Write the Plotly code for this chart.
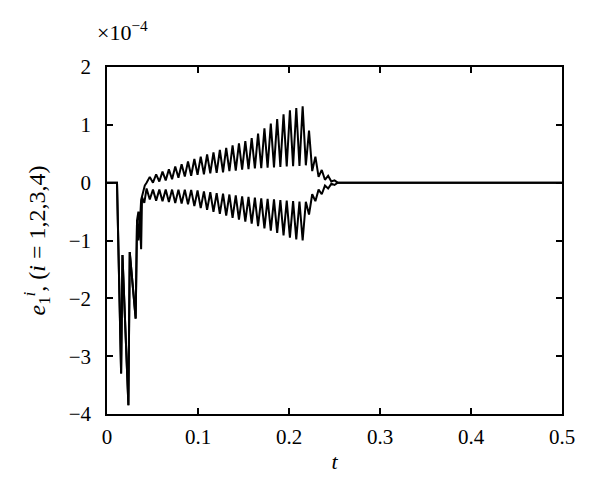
import plotly.graph_objects as go

# values in units of 1e-4
t_start = [0.0, 0.011, 0.0155, 0.017, 0.0235, 0.025, 0.0315, 0.033]
e_start = [0.0, 0.0, -3.3, -1.25, -3.85, -1.2, -2.35, -0.65]

t_up_early = [0.0345, 0.036, 0.0375, 0.039, 0.0415]
e_up_early = [-0.5, -0.75, -0.3, -0.2, -0.05]

t_lo_early = [0.0345, 0.036, 0.0375, 0.0385, 0.041]
e_lo_early = [-1.0, -0.6, -1.15, -0.25, -0.35]

t_zig = [0.0435, 0.047, 0.0505, 0.054, 0.0575, 0.061, 0.0645, 0.068, 0.0715, 0.075,
         0.0785, 0.082, 0.0855, 0.089, 0.0925, 0.096, 0.0995, 0.103, 0.1065, 0.110,
         0.1135, 0.117, 0.1205, 0.124, 0.1275, 0.131, 0.1345, 0.138, 0.1415, 0.145,
         0.1485, 0.152, 0.1555, 0.159, 0.1625, 0.166, 0.1695, 0.173, 0.1765, 0.180,
         0.1835, 0.187, 0.1905, 0.194, 0.1975, 0.201, 0.2045, 0.208, 0.2115, 0.215,
         0.2185]

e_up_zig = [0.0, 0.10, 0.0, 0.145, 0.02, 0.19, 0.04, 0.23, 0.06, 0.28,
            0.085, 0.32, 0.105, 0.365, 0.12, 0.41, 0.135, 0.45, 0.145, 0.49,
            0.16, 0.525, 0.17, 0.565, 0.18, 0.60, 0.20, 0.645, 0.21, 0.68,
            0.225, 0.72, 0.235, 0.77, 0.245, 0.85, 0.25, 0.94, 0.26, 1.02,
            0.265, 1.10, 0.27, 1.18, 0.28, 1.25, 0.285, 1.29, 0.29, 1.32,
            0.30]

e_lo_zig = [-0.10, -0.29, -0.12, -0.31, -0.12, -0.32, -0.12, -0.335, -0.12, -0.35,
            -0.12, -0.36, -0.12, -0.375, -0.125, -0.405, -0.135, -0.44, -0.15, -0.47,
            -0.165, -0.505, -0.18, -0.54, -0.19, -0.57, -0.205, -0.61, -0.22, -0.64,
            -0.235, -0.675, -0.245, -0.71, -0.26, -0.75, -0.27, -0.79, -0.28, -0.83,
            -0.29, -0.87, -0.30, -0.91, -0.31, -0.95, -0.32, -0.98, -0.325, -1.0,
            -0.33]

t_tail = [0.222, 0.2255, 0.229, 0.2325, 0.236, 0.2395, 0.243, 0.2465, 0.25, 0.2535, 0.5]
e_up_tail = [0.9, 0.2, 0.45, 0.1, 0.22, 0.05, 0.12, 0.02, 0.04, 0.0, 0.0]
e_lo_tail = [-0.55, -0.2, -0.32, -0.12, -0.2, -0.05, -0.1, -0.02, -0.04, 0.0, 0.0]

x_ticks = [0, 0.1, 0.2, 0.3, 0.4, 0.5]
x_tick_labels = ["0", "0.1", "0.2", "0.3", "0.4", "0.5"]
y_ticks = [-4, -3, -2, -1, 0, 1, 2]
y_tick_labels = ["\u22124", "\u22123", "\u22122", "\u22121", "0", "1", "2"]

t_upper = t_start + t_up_early + t_zig + t_tail
e_upper = e_start + e_up_early + e_up_zig + e_up_tail
t_lower = t_start + t_lo_early + t_zig + t_tail
e_lower = e_start + e_lo_early + e_lo_zig + e_lo_tail

fig = go.Figure()
for tt, ee in [(t_lower, e_lower), (t_upper, e_upper)]:
    fig.add_trace(go.Scatter(x=tt, y=ee, mode="lines",
                             line=dict(color="black", width=2),
                             showlegend=False, hoverinfo="skip"))

font_family = "Liberation Serif, serif"
axis_common = dict(showline=True, linecolor="black", linewidth=1.5,
                   mirror="ticks", ticks="inside", ticklen=6, tickwidth=1.5,
                   tickcolor="black", showgrid=False, zeroline=False,
                   tickfont=dict(family=font_family, size=21, color="black"))

fig.update_xaxes(range=[0, 0.5], tickvals=x_ticks, ticktext=x_tick_labels,
                 title=dict(text="<i>t</i>", font=dict(family=font_family, size=22, color="black"),
                            standoff=6),
                 ticklabelstandoff=3, **axis_common)
fig.update_yaxes(range=[-4, 2], tickvals=y_ticks, ticktext=y_tick_labels,
                 title=dict(text="<i>e</i><sub>1</sub><sup><i>i</i></sup>, (<i>i</i> = 1,2,3,4)",
                            font=dict(family=font_family, size=24, color="black"),
                            standoff=16),
                 ticklabelstandoff=10, **axis_common)

fig.add_annotation(text="\u00d710<sup>\u22124</sup>", xref="paper", yref="paper",
                   x=0, y=1, xshift=-12, yshift=20, xanchor="left", yanchor="bottom",
                   showarrow=False, font=dict(family=font_family, size=22, color="black"))

# page body has an 8px margin, so margins are offset to place the plot area
fig.update_layout(width=600, height=502, plot_bgcolor="white", paper_bgcolor="white",
                  margin=dict(l=99, r=46, t=59, b=96))

fig.write_html("out.html")
